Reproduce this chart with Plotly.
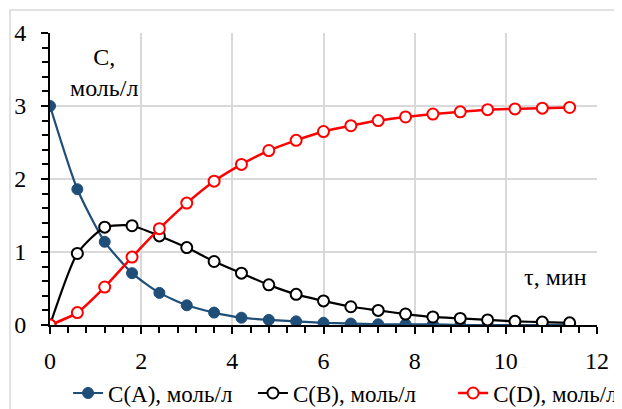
import plotly.graph_objects as go

tau = [0, 0.6, 1.2, 1.8, 2.4, 3.0, 3.6, 4.2, 4.8, 5.4, 6.0, 6.6, 7.2, 7.8, 8.4, 9.0, 9.6, 10.2, 10.8, 11.4]
c_a = [3.0, 1.86, 1.14, 0.71, 0.44, 0.27, 0.17, 0.10, 0.07, 0.05, 0.03, 0.02, 0.01, 0.01, 0.01, 0.0, 0.0, 0.0, 0.0, 0.0]
c_b = [0.0, 0.98, 1.34, 1.36, 1.22, 1.06, 0.87, 0.71, 0.55, 0.42, 0.33, 0.25, 0.20, 0.15, 0.11, 0.09, 0.07, 0.05, 0.04, 0.03]
c_d = [0.0, 0.17, 0.52, 0.93, 1.32, 1.67, 1.97, 2.20, 2.39, 2.53, 2.65, 2.73, 2.80, 2.85, 2.89, 2.92, 2.95, 2.96, 2.97, 2.98]
names = ["C(A), моль/л", "C(B), моль/л", "C(D), моль/л"]

FONT = "Liberation Serif, Times New Roman, serif"
FS = 24
LFS = 23

fig = go.Figure()
fig.add_trace(go.Scatter(x=tau, y=c_a, name=names[0], mode="lines+markers", legend="legend",
                         line=dict(color="#1f4e79", width=2.2, shape="spline", smoothing=0.6),
                         marker=dict(symbol="circle", size=11, color="#1f4e79",
                                     line=dict(color="#1f4e79", width=1))))
fig.add_trace(go.Scatter(x=tau, y=c_b, name=names[1], mode="lines+markers", legend="legend2",
                         line=dict(color="black", width=2.2, shape="spline", smoothing=0.6),
                         marker=dict(symbol="circle", size=11, color="white",
                                     line=dict(color="black", width=2))))
fig.add_trace(go.Scatter(x=tau, y=c_d, name=names[2], mode="lines+markers", legend="legend3",
                         line=dict(color="#ff0000", width=2.5, shape="spline", smoothing=0.6),
                         marker=dict(symbol="circle", size=11, color="white",
                                     line=dict(color="#ff0000", width=2))))

leg_common = dict(orientation="h", xanchor="left", y=-0.233, yanchor="middle",
                  font=dict(family=FONT, size=LFS, color="black"),
                  itemwidth=30, bgcolor="rgba(0,0,0,0)", borderwidth=0)

# page has an 8px body margin: figure is drawn at (8, 8)
fig.update_layout(
    width=614, height=401,
    margin=dict(l=42, r=25, t=25, b=84, autoexpand=False),
    paper_bgcolor="white", plot_bgcolor="white",
    font=dict(family=FONT, size=FS, color="black"),
    showlegend=True,
    legend=dict(x=0.033, **leg_common),
    legend2=dict(x=0.371, **leg_common),
    legend3=dict(x=0.737, **leg_common),
)
fig.update_xaxes(range=[0, 12], dtick=2, tick0=0, showgrid=True, gridcolor="#d9d9d9", gridwidth=1.5,
                 showline=True, linecolor="black", linewidth=2, zeroline=False,
                 ticks="outside", ticklen=7, tickcolor="black", tickwidth=1.5,
                 ticklabelstandoff=6,
                 tickfont=dict(family=FONT, size=FS, color="black"),
                 minor=dict(dtick=0.4, ticks="outside", ticklen=6, tickcolor="black", tickwidth=1.5, showgrid=False))
fig.update_yaxes(range=[0, 4], dtick=1, tick0=0, showgrid=True, gridcolor="#d9d9d9", gridwidth=1.5,
                 showline=True, linecolor="black", linewidth=2, zeroline=False,
                 ticks="outside", ticklen=7, tickcolor="black", tickwidth=1.5,
                 ticklabelstandoff=10,
                 tickfont=dict(family=FONT, size=FS, color="black"),
                 minor=dict(dtick=0.2, ticks="outside", ticklen=6, tickcolor="black", tickwidth=1.5, showgrid=False))

fig.add_annotation(xref="paper", yref="paper", x=0.099, y=0.865, xanchor="center", yanchor="middle",
                   text="C,<br>моль/л", showarrow=False, align="center",
                   font=dict(family=FONT, size=FS, color="black"))
fig.add_annotation(xref="paper", yref="paper", x=0.925, y=0.164, xanchor="center", yanchor="middle",
                   text="τ, мин", showarrow=False, align="center",
                   font=dict(family=FONT, size=FS, color="black"))

fig.add_shape(type="rect", xref="paper", yref="paper", x0=-40/547, x1=1.2, y0=-0.5, y1=315/292,
              line=dict(color="#d9d9d9", width=1.5), fillcolor="rgba(0,0,0,0)", layer="below")

fig.write_html("out.html")
